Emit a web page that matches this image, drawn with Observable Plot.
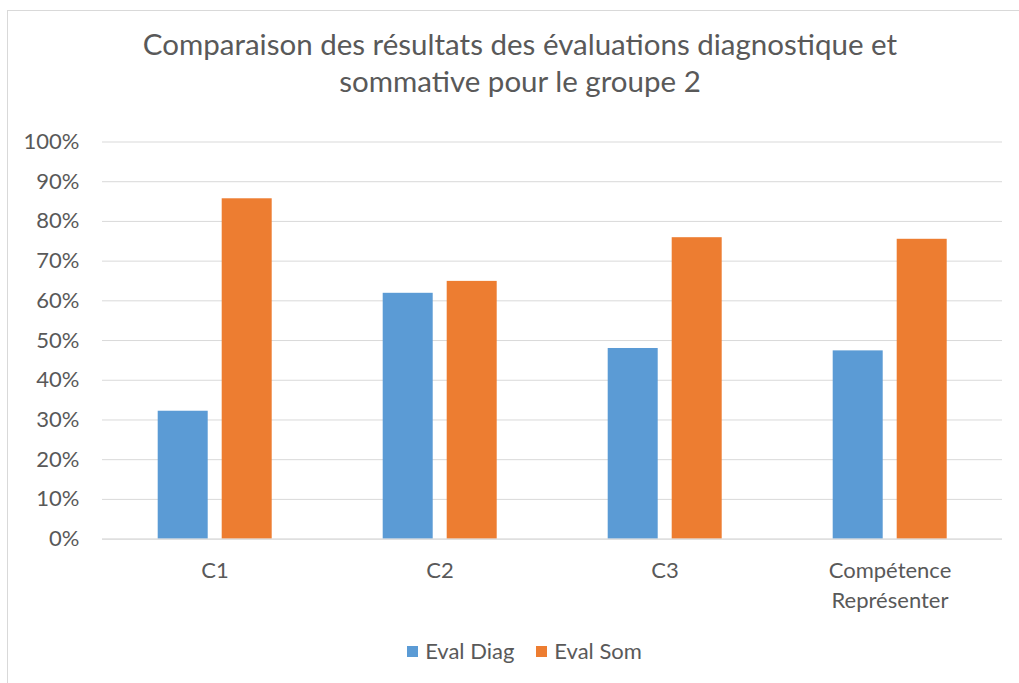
<!DOCTYPE html>
<html><head><meta charset="utf-8">
<script src="https://cdn.jsdelivr.net/npm/d3@7"></script>
<script src="https://cdn.jsdelivr.net/npm/@observablehq/plot@0.6"></script>
<style>
html,body{margin:0;background:#fff;font-family:Lato,"Open Sans",sans-serif;overflow:hidden;width:1019px;height:683px;}
#frame{position:absolute;left:7px;top:10px;width:1100px;height:800px;border:1px solid #D9D9D9;box-sizing:border-box;}
#title{position:absolute;left:0;top:25px;width:1040px;text-align:center;color:#595959;font-size:29.5px;line-height:37px;}
#chart{position:absolute;left:0;top:120px;}
#legend{position:absolute;top:638px;left:0;width:1049px;display:flex;justify-content:center;gap:22px;color:#595959;font-size:22px;line-height:26px;}
#legend span.item{display:flex;align-items:center;gap:7px;}
#legend span.sw{display:inline-block;width:11px;height:11px;}
</style></head>
<body>
<div id="frame"></div>
<div id="title">Comparaison des résultats des évaluations diagnostique et<br>sommative pour le groupe 2</div>
<div id="chart"></div>
<div id="legend"></div>
<script>
const categories = ["C1", "C2", "C3", "Compétence\nReprésenter"];
const series = ["Eval Diag", "Eval Som"];
const evalDiag = [0.322, 0.619, 0.480, 0.474];
const evalSom = [0.857, 0.649, 0.759, 0.755];
const yTicks = [0, 0.1, 0.2, 0.3, 0.4, 0.5, 0.6, 0.7, 0.8, 0.9, 1.0];
const colors = ["#5B9BD5", "#ED7D31"];

const data = [];
categories.forEach((c, i) => {
  data.push({cat: c, serie: series[0], value: evalDiag[i]});
  data.push({cat: c, serie: series[1], value: evalSom[i]});
});

const plot = Plot.plot({
  width: 1019,
  height: 500,
  marginTop: 21.5,
  marginBottom: 81.4,
  marginLeft: 101.3,
  marginRight: 16.4,
  style: {fontFamily: "Lato, 'Open Sans', sans-serif", color: "#595959", background: "transparent"},
  fx: {domain: categories, padding: 0},
  x: {domain: series, paddingInner: 0.217, paddingOuter: 0.855, axis: null},
  y: {domain: [0, 1]},
  color: {domain: series, range: colors},
  marks: [
    Plot.gridY(yTicks, {stroke: "#D9D9D9", strokeOpacity: 1, strokeWidth: 1}),
    Plot.axisY(yTicks, {tickSize: 0, tickPadding: 23, tickFormat: d3.format(".0%"), fontSize: 22, fill: "#595959", label: null}),
    Plot.axisFx({anchor: "bottom", tickSize: 0, tickPadding: 17, fontSize: 22, fill: "#595959", lineHeight: 1.38, label: null}),
    Plot.barY(data, {fx: "cat", x: "serie", y: "value", fill: "serie"}),
    Plot.ruleY([0], {stroke: "#D9D9D9"})
  ]
});
document.getElementById("chart").appendChild(plot);

const legend = document.getElementById("legend");
series.forEach((s, i) => {
  const item = document.createElement("span");
  item.className = "item";
  const sw = document.createElement("span");
  sw.className = "sw";
  sw.style.background = colors[i];
  item.appendChild(sw);
  item.appendChild(document.createTextNode(s));
  legend.appendChild(item);
});
</script>
</body></html>
